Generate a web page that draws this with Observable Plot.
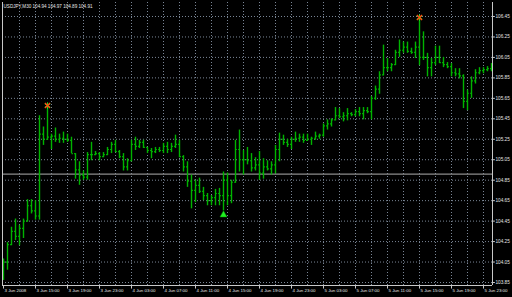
<!DOCTYPE html>
<html><head><meta charset="utf-8">
<script src="https://cdn.jsdelivr.net/npm/d3@7"></script>
<script src="https://cdn.jsdelivr.net/npm/@observablehq/plot@0.6"></script>
<style>html,body{margin:0;padding:0;background:#000;overflow:hidden}</style>
</head><body><div id="chart"></div>
<script>
// USDJPY M30 bars, 3 Jun 2008 11:00 onward (one entry per 30-minute bar)
const high = [
104.08,104.24,104.39,104.47,104.41,104.47,104.66,104.66,104.65,105.48,
105.37,105.57,105.30,105.36,105.30,105.32,105.30,105.27,105.11,105.03,
104.94,105.12,105.22,105.13,105.12,105.12,105.17,105.22,105.24,105.14,
105.11,105.06,105.24,105.27,105.24,105.24,105.17,105.16,105.17,105.17,
105.21,105.22,105.21,105.29,105.24,105.09,105.03,104.90,104.85,104.87,
104.78,104.72,104.70,104.76,104.77,104.93,104.92,104.85,105.24,105.34,
105.14,105.17,105.11,105.07,105.13,105.06,105.04,105.03,105.19,105.31,
105.29,105.25,105.27,105.32,105.30,105.30,105.30,105.27,105.32,105.30,
105.40,105.44,105.45,105.56,105.55,105.51,105.55,105.51,105.54,105.56,
105.56,105.56,105.67,105.77,105.91,106.17,106.04,105.99,106.12,106.22,
106.20,106.20,106.14,106.20,106.43,106.30,106.09,106.04,106.16,106.16,
106.05,106.00,105.99,105.94,105.94,105.88,105.73,105.86,105.93,105.95,
105.95,105.96,105.99];
const low = [
103.87,103.97,104.21,104.26,104.21,104.28,104.44,104.52,104.46,104.46,
105.19,105.24,105.15,105.22,105.21,105.21,105.22,105.11,104.86,104.80,
104.85,104.85,105.04,105.09,105.04,105.07,105.09,105.11,105.12,105.06,
104.94,104.94,105.03,105.14,105.16,105.16,105.11,105.06,105.11,105.12,
105.11,105.11,105.12,105.16,105.07,104.93,104.78,104.57,104.63,104.72,
104.65,104.60,104.60,104.60,104.60,104.55,104.60,104.62,104.82,104.93,
104.90,105.00,104.93,104.94,104.85,104.86,104.94,104.90,104.91,105.03,
105.19,105.17,105.15,105.22,105.22,105.21,105.23,105.19,105.24,105.25,
105.27,105.34,105.37,105.43,105.45,105.42,105.43,105.47,105.47,105.47,
105.44,105.50,105.44,105.63,105.69,105.87,105.91,105.91,105.97,106.05,
106.09,106.09,106.08,106.04,105.97,106.02,105.86,105.86,105.97,105.99,
105.95,105.94,105.86,105.86,105.84,105.55,105.53,105.65,105.79,105.88,
105.89,105.91,105.91];
const open = [
103.95,104.05,104.22,104.35,104.30,104.38,104.45,104.60,104.55,104.50,
105.30,105.25,105.27,105.28,105.25,105.26,105.25,105.24,105.11,104.95,
104.90,104.88,105.10,105.10,105.11,105.08,105.10,105.15,105.20,105.13,
105.08,104.98,105.04,105.20,105.18,105.22,105.17,105.14,105.13,105.15,
105.14,105.18,105.15,105.18,105.20,105.08,104.98,104.84,104.75,104.80,
104.74,104.70,104.65,104.68,104.72,104.70,104.85,104.70,104.83,105.15,
105.05,105.05,105.04,104.97,105.00,104.92,104.98,104.96,105.00,105.15,
105.25,105.22,105.20,105.25,105.26,105.27,105.24,105.25,105.26,105.28,
105.29,105.38,105.40,105.44,105.48,105.47,105.48,105.50,105.49,105.52,
105.50,105.53,105.52,105.65,105.74,105.88,105.95,105.95,105.98,106.10,
106.12,106.15,106.11,106.10,106.15,106.05,106.05,105.95,106.00,106.05,
106.00,105.98,105.96,105.90,105.89,105.87,105.62,105.70,105.82,105.90,
105.92,105.93,105.94];
const close = [
104.05,104.22,104.35,104.30,104.38,104.45,104.60,104.55,104.50,105.30,
105.25,105.27,105.28,105.25,105.26,105.25,105.24,105.11,104.95,104.90,
104.88,105.10,105.10,105.11,105.08,105.10,105.15,105.20,105.13,105.08,
104.98,105.04,105.20,105.18,105.22,105.17,105.14,105.13,105.15,105.14,
105.18,105.15,105.18,105.20,105.08,104.98,104.84,104.75,104.80,104.74,
104.70,104.65,104.68,104.72,104.70,104.85,104.70,104.83,105.15,105.05,
105.05,105.04,104.97,105.00,104.92,104.98,104.96,105.00,105.15,105.25,
105.22,105.20,105.25,105.26,105.27,105.24,105.25,105.26,105.28,105.29,
105.38,105.40,105.44,105.48,105.47,105.48,105.50,105.49,105.52,105.50,
105.53,105.52,105.65,105.74,105.88,105.95,105.95,105.98,106.10,106.12,
106.15,106.11,106.10,106.15,106.05,106.05,105.95,106.00,106.05,106.00,
105.98,105.96,105.90,105.89,105.87,105.62,105.70,105.82,105.90,105.92,
105.93,105.94,105.96];

const timeLabels = ["3 Jun 2008","3 Jun 15:00","3 Jun 19:00","3 Jun 23:00","4 Jun 03:00","4 Jun 07:00",
  "4 Jun 11:00","4 Jun 15:00","4 Jun 19:00","4 Jun 23:00","5 Jun 03:00","5 Jun 07:00",
  "5 Jun 11:00","5 Jun 15:00","5 Jun 19:00","5 Jun 23:00"];
const timeLabelBars = [0,8,16,24,32,40,48,56,64,72,80,88,96,104,112,120];
const gridBars = [4,8,12,16,20,24,28,32,36,40,44,48,52,56,60,64,68,72,76,80,84,88,92,96,100,104,108,112,116,120];
const priceTicks = [103.85,104.05,104.25,104.45,104.65,104.85,105.05,105.25,105.45,105.65,105.85,106.05,106.25,106.45];
const header = ["USDJPY,M30", "104.94", "104.97", "104.89", "104.91"];
const bidPrice = 104.91;
const fractalHighBars = [11, 104];
const arrowLowBars = [55];

const bars = high.map((h, i) => ({i, high: h, low: low[i], open: open[i], close: close[i]}));
const green = "#00b400";
const xDom = [-0.25, 122.25];
const yDom = [103.8207, 106.5868];
const txt = "#e6e6e6";

const chart = Plot.plot({
  width: 512, height: 297,
  marginLeft: 2, marginRight: 20, marginTop: 2, marginBottom: 12,
  style: {background: "#000", color: txt, fontFamily: "Liberation Sans, Arial, sans-serif", fontSize: "4.7px"},
  x: {domain: xDom, axis: null},
  y: {domain: yDom, axis: null},
  marks: [
    Plot.ruleY(priceTicks, {y: d => d, stroke: "#7a8696", strokeDasharray: "1,2"}),
    Plot.ruleX(gridBars, {x: d => d, stroke: "#7a8696", strokeDasharray: "1,2"}),
    Plot.ruleY([bidPrice], {y: d => d, stroke: "#8c8c8c", strokeWidth: 1.2}),
    Plot.ruleX(bars, {x: "i", y1: "low", y2: "high", stroke: green, strokeWidth: 1.4}),
    Plot.link(bars, {x1: d => d.i - 0.35, x2: "i", y1: "open", y2: "open", stroke: green, strokeWidth: 1.2}),
    Plot.link(bars, {x1: "i", x2: d => d.i + 0.35, y1: "close", y2: "close", stroke: green, strokeWidth: 1.2}),
    // fractal markers on highs
    Plot.dot(fractalHighBars, {x: d => d, y: d => high[d], dy: -1, symbol: "asterisk", r: 3, stroke: "#22dd22", strokeWidth: 1}),
    Plot.dot(fractalHighBars, {x: d => d, y: d => high[d], dy: -1, symbol: "times", r: 2.4, stroke: "#ff4a10", strokeWidth: 1.4}),
    // arrow under the low
    Plot.dot(arrowLowBars, {x: d => d, y: d => low[d], dy: 4, symbol: "triangle", r: 2.6, fill: "#22ee22", stroke: "#00aa00", strokeWidth: 0.5}),
    // frame
    Plot.ruleX([xDom[0], xDom[1]], {x: d => d, stroke: "#c8c8c8"}),
    Plot.ruleY([yDom[0]], {y: d => d, stroke: "#c8c8c8"}),
    // price axis
    Plot.link(priceTicks, {x1: xDom[1], x2: xDom[1] + 0.6, y1: d => d, y2: d => d, stroke: "#c8c8c8"}),
    Plot.text(priceTicks, {y: d => d, frameAnchor: "right", dx: 3, textAnchor: "start", text: d => d.toFixed(2), fill: txt}),
    // time axis
    Plot.link(timeLabelBars, {x1: d => d, x2: d => d, y1: yDom[0], y2: yDom[0] - 0.03, stroke: "#c8c8c8"}),
    Plot.text(timeLabelBars, {x: d => d, frameAnchor: "bottom", dy: 6, dx: 1, textAnchor: "start", text: (d, i) => timeLabels[i], fill: txt, fontSize: 4.4}),
    // header
    Plot.text([header.join(" ")], {frameAnchor: "top-left", dx: 1, dy: 2, textAnchor: "start", lineAnchor: "top", fill: txt, fontSize: 4.6}),
    // bid label
    Plot.text([bidPrice], {y: d => d, frameAnchor: "right", dx: 3, textAnchor: "start", text: d => d.toFixed(2), fill: "#000"})
  ]
});
document.getElementById("chart").appendChild(chart);

// box behind bid label
d3.select(chart).selectAll("text").filter(function() {
  return this.textContent === bidPrice.toFixed(2) && this.getAttribute("fill") === "#000";
}).each(function() {
  const b = this.getBBox();
  const r = document.createElementNS("http://www.w3.org/2000/svg", "rect");
  r.setAttribute("x", b.x - 0.8); r.setAttribute("y", b.y - 0.3);
  r.setAttribute("width", b.width + 1.6); r.setAttribute("height", b.height + 0.6);
  r.setAttribute("fill", "#d8d8d8"); r.setAttribute("stroke", "#ffffff"); r.setAttribute("stroke-width", 0.6);
  const t = this.getAttribute("transform");
  if (t) r.setAttribute("transform", t);
  this.parentNode.insertBefore(r, this);
});
</script>
</body></html>
